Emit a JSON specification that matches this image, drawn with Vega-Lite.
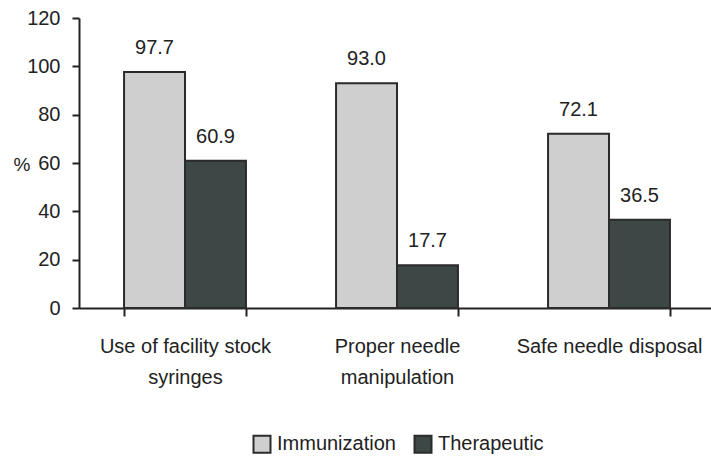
{
  "$schema": "https://vega.github.io/schema/vega-lite/v6.json",
  "autosize": {"type": "none"},
  "width": 636,
  "height": 290,
  "padding": {"left": 79, "top": 18, "right": 0, "bottom": 151},
  "background": "white",
  "config": {
    "font": "Liberation Sans",
    "view": {"stroke": null}
  },
  "data": {
    "values": [
      {"category": "Use of facility stock syringes", "type": "Immunization", "value": 97.7},
      {"category": "Use of facility stock syringes", "type": "Therapeutic", "value": 60.9},
      {"category": "Proper needle manipulation", "type": "Immunization", "value": 93.0},
      {"category": "Proper needle manipulation", "type": "Therapeutic", "value": 17.7},
      {"category": "Safe needle disposal", "type": "Immunization", "value": 72.1},
      {"category": "Safe needle disposal", "type": "Therapeutic", "value": 36.5}
    ]
  },
  "encoding": {
    "x": {
      "field": "category",
      "type": "nominal",
      "sort": null,
      "scale": {"paddingInner": 0.425, "paddingOuter": 0.2125},
      "axis": {
        "title": null,
        "labelAngle": 0,
        "labelFontSize": 20,
        "labelColor": "#222222",
        "labelPadding": 20,
        "labelLineHeight": 31,
        "labelBaseline": "top",
        "labelLimit": 300,
        "labelExpr": "datum.value == 'Use of facility stock syringes' ? ['Use of facility stock', 'syringes'] : datum.value == 'Proper needle manipulation' ? ['Proper needle', 'manipulation'] : datum.value",
        "tickBand": "extent",
        "tickSize": 8,
        "tickColor": "#222222",
        "tickWidth": 2,
        "domainColor": "#222222",
        "domainWidth": 2
      }
    },
    "xOffset": {"field": "type", "type": "nominal", "sort": ["Immunization", "Therapeutic"], "scale": {"paddingInner": 0, "paddingOuter": 0}},
    "y": {
      "field": "value",
      "type": "quantitative",
      "scale": {"domain": [0, 120]},
      "axis": {
        "title": "%",
        "titleAngle": 0,
        "titleFontSize": 19,
        "titleFontWeight": "normal",
        "titleColor": "#222222",
        "titleAlign": "left",
        "titleBaseline": "middle",
        "titleX": -66,
        "titleY": 146,
        "values": [0, 20, 40, 60, 80, 100, 120],
        "grid": false,
        "labelFontSize": 20,
        "labelColor": "#222222",
        "labelPadding": 12,
        "tickSize": 7,
        "tickColor": "#222222",
        "tickWidth": 2,
        "domainColor": "#222222",
        "domainWidth": 2
      }
    }
  },
  "layer": [
    {
      "mark": {"type": "bar", "stroke": "#2b2b2b", "strokeWidth": 2},
      "encoding": {
        "color": {
          "field": "type",
          "type": "nominal",
          "sort": ["Immunization", "Therapeutic"],
          "scale": {"domain": ["Immunization", "Therapeutic"], "range": ["#cfcfcf", "#3d4745"]},
          "legend": {
            "title": null,
            "orient": "none",
            "direction": "horizontal",
            "legendX": 173,
            "legendY": 416,
            "symbolType": "square",
            "symbolSize": 289,
            "symbolStrokeColor": "#2b2b2b",
            "symbolStrokeWidth": 2,
            "symbolOpacity": 1,
            "labelFontSize": 20,
            "labelColor": "#222222",
            "labelOffset": 5,
            "columnPadding": 14
          }
        }
      }
    },
    {
      "mark": {"type": "text", "baseline": "alphabetic", "dy": -18, "fontSize": 20, "color": "#222222"},
      "encoding": {
        "text": {"field": "value", "type": "quantitative", "format": ".1f"}
      }
    }
  ]
}
